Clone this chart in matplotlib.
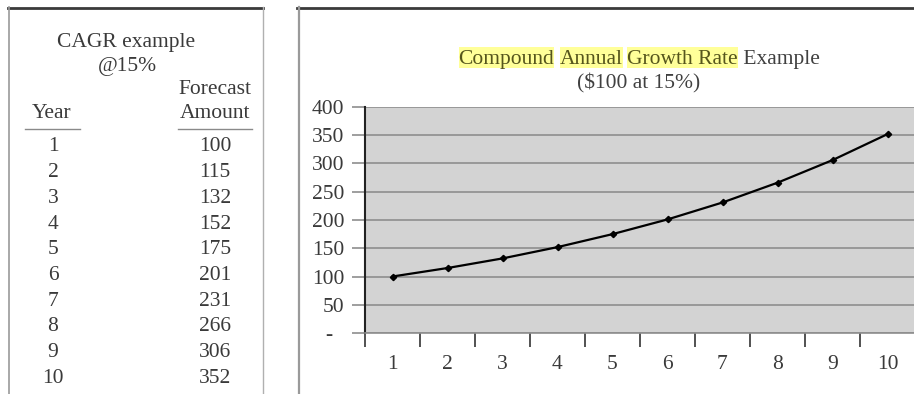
import matplotlib
matplotlib.use("Agg")
import matplotlib.pyplot as plt
from matplotlib.lines import Line2D
from matplotlib.patches import Rectangle
from matplotlib.ticker import FixedLocator, FixedFormatter

years = [1, 2, 3, 4, 5, 6, 7, 8, 9, 10]
amounts = [100, 115, 132, 152, 175, 201, 231, 266, 306, 352]
ytick_vals = [0, 50, 100, 150, 200, 250, 300, 350, 400]
ytick_labels = ["-  ", "50", "100", "150", "200", "250", "300", "350", "400"]

W, H = 914, 394
DPI = 100
plt.rcParams['font.family'] = ['Liberation Serif', 'DejaVu Serif']
FS = 15.5

fig = plt.figure(figsize=(W / DPI, H / DPI), dpi=DPI)
fig.patch.set_facecolor('white')

def fx(px):
    return px / W

def fy(py):
    return 1 - py / H

TXT = '#3a3a3a'

# ---- panel borders ----
def hline(x0, x1, y, color, lw):
    fig.add_artist(Line2D([fx(x0), fx(x1)], [fy(y), fy(y)], color=color, lw=lw,
                          transform=fig.transFigure))

def vline(x, y0, y1, color, lw):
    fig.add_artist(Line2D([fx(x), fx(x)], [fy(y0), fy(y1)], color=color, lw=lw,
                          transform=fig.transFigure))

hline(8, 263, 7.5, '#3a3a3a', 2.0)
vline(8.5, 7, 394, '#9a9a9a', 1.2)
vline(262.5, 7, 394, '#b0b0b0', 1.0)
hline(297, 914, 7.5, '#3a3a3a', 2.0)
vline(298.5, 7, 394, '#9a9a9a', 1.6)

# ---- left table ----
fig.text(fx(126), fy(43), "CAGR example", ha='center', va='center', fontsize=FS, color=TXT)
fig.text(fx(127), fy(67), "@15%", ha='center', va='center', fontsize=FS, color=TXT)
fig.text(fx(215), fy(90), "Forecast", ha='center', va='center', fontsize=FS, color=TXT)
fig.text(fx(215), fy(114), "Amount", ha='center', va='center', fontsize=FS, color=TXT)
fig.text(fx(52), fy(114), "Year", ha='center', va='center', fontsize=FS, color=TXT)
hline(25, 80, 128.5, '#8a8a8a', 1.0)
hline(178, 252, 128.5, '#8a8a8a', 1.0)

row0, rowstep = 147, 25.7
for i, (yr, amt) in enumerate(zip(years, amounts)):
    yy = row0 + i * rowstep
    fig.text(fx(53), fy(yy), str(yr), ha='center', va='center', fontsize=FS, color=TXT)
    fig.text(fx(215), fy(yy), str(amt), ha='center', va='center', fontsize=FS, color=TXT)

# ---- chart ----
ax = fig.add_axes([fx(365), fy(333), fx(915) - fx(365), (333 - 107) / H])
ax.set_facecolor('#d3d3d3')
ax.plot(years, amounts, color='black', lw=1.6, marker='D', markersize=3.2, zorder=3)
ax.set_xlim(0.5, 10.5)
ax.set_ylim(0, 400)
ax.yaxis.set_major_locator(FixedLocator(ytick_vals))
ax.yaxis.set_major_formatter(FixedFormatter(ytick_labels))
ax.grid(axis='y', color='#8e8e8e', lw=1.2)
ax.set_axisbelow(True)

ax.xaxis.set_major_locator(FixedLocator(years))
ax.xaxis.set_major_formatter(FixedFormatter([str(y) for y in years]))
ax.xaxis.set_minor_locator(FixedLocator([y - 0.5 for y in years] + [10.5]))
ax.tick_params(axis='x', which='major', length=0, pad=16, labelsize=FS, labelcolor=TXT)
ax.tick_params(axis='x', which='minor', length=10, width=1.2, color='#333333')
ax.tick_params(axis='y', which='major', length=9.5, width=1.2, color='#8e8e8e', pad=5.5,
               labelsize=FS, labelcolor=TXT)

for s in ['top', 'right']:
    ax.spines[s].set_visible(False)
ax.spines['left'].set_color('#222222')
ax.spines['left'].set_linewidth(1.5)
ax.spines['left'].set_bounds(0, 400)
ax.spines['bottom'].set_color('#8e8e8e')
ax.spines['bottom'].set_linewidth(1.2)

# ---- title with highlighted words ----
pieces = [("Compound", True), (" ", False), ("Annual", True), (" ", False),
          ("Growth Rate", True), (" Example", False)]
renderer = fig.canvas.get_renderer()

def text_w(s):
    t = fig.text(0, 0, s + "|", fontsize=FS)
    t2 = fig.text(0, 0, "|", fontsize=FS)
    w = t.get_window_extent(renderer).width - t2.get_window_extent(renderer).width
    t.remove(); t2.remove()
    return w

full = "".join(p for p, _ in pieces)
total_w = text_w(full)
x_start = 639 - total_w / 2
base_y = 64
prefix = ""
for s, hl in pieces:
    xp = x_start + text_w(prefix)
    wp = text_w(s)
    if hl:
        fig.add_artist(Rectangle((fx(xp), fy(68)), wp / W, 21 / H, transform=fig.transFigure,
                                 facecolor='#ffff99', edgecolor='none', zorder=1))
    fig.text(fx(xp), fy(base_y), s, ha='left', va='baseline', fontsize=FS,
             color='#55551c' if hl else '#404040', zorder=2)
    prefix += s

fig.text(fx(639), fy(83), "($100 at 15%)", ha='center', va='center', fontsize=FS, color='#404040')

fig.savefig("out.png", dpi=DPI)
